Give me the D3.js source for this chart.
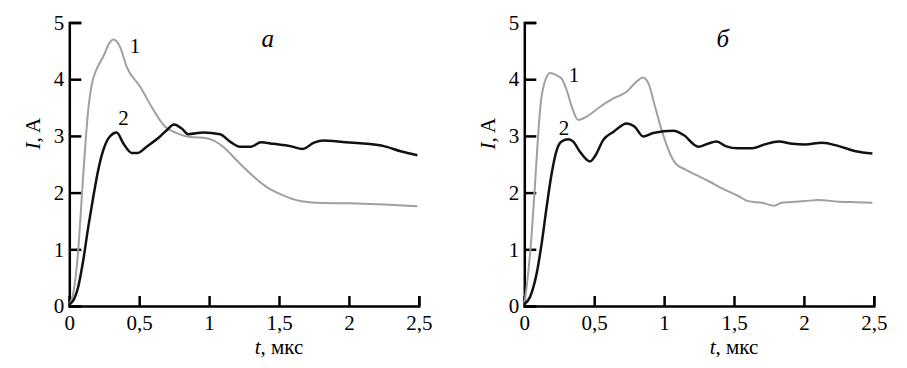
<!DOCTYPE html>
<html>
<head>
<meta charset="utf-8">
<script src="https://cdn.jsdelivr.net/npm/d3@7"></script>
<style>
  body { margin: 0; background: #fff; }
  svg text { font-family: "Liberation Serif", "Times New Roman", Tinos, "DejaVu Serif", serif !important; }
</style>
</head>
<body>
<svg id="chart" width="907" height="368"></svg>
<script>
// Tick values
const xTicks = [0, 0.5, 1, 1.5, 2, 2.5];
const yTicks = [0, 1, 2, 3, 4, 5];

// Panel "а": curve 1 (gray) and curve 2 (black), [t (мкс), I (A)]
const aCurve1 = [
  [0, 0.03], [0.029, 0.23], [0.064, 0.99], [0.088, 1.87], [0.112, 2.75], [0.135, 3.45],
  [0.16, 3.9], [0.2, 4.2], [0.243, 4.4], [0.29, 4.65], [0.315, 4.7], [0.363, 4.57],
  [0.41, 4.22], [0.506, 3.87], [0.601, 3.46], [0.685, 3.16], [0.768, 3.05], [0.863, 2.98],
  [0.983, 2.96], [1.03, 2.92], [1.1, 2.81], [1.197, 2.57], [1.293, 2.34], [1.41, 2.1],
  [1.53, 1.95], [1.65, 1.85], [1.77, 1.82], [2.01, 1.81], [2.25, 1.79], [2.49, 1.76]
];
const aCurve2 = [
  [0, 0.03], [0.029, 0.1], [0.064, 0.34], [0.1, 0.81], [0.136, 1.4], [0.172, 1.93],
  [0.207, 2.4], [0.243, 2.75], [0.29, 2.99], [0.339, 3.06], [0.386, 2.87], [0.446, 2.7],
  [0.49, 2.7], [0.553, 2.81], [0.649, 2.99], [0.697, 3.1], [0.749, 3.2], [0.804, 3.13],
  [0.851, 3.03], [0.959, 3.06], [1.078, 3.03], [1.15, 2.9], [1.22, 2.81], [1.3, 2.81],
  [1.37, 2.89], [1.46, 2.86], [1.58, 2.82], [1.67, 2.77], [1.75, 2.88], [1.82, 2.92],
  [1.92, 2.9], [2.03, 2.88], [2.13, 2.86], [2.25, 2.82], [2.37, 2.73], [2.49, 2.66]
];

// Panel "б"
const bCurve1 = [
  [0, 0.03], [0.017, 0.34], [0.053, 1.28], [0.077, 2.16], [0.1, 3.05], [0.12, 3.63],
  [0.14, 3.9], [0.16, 4.04], [0.184, 4.11], [0.23, 4.07], [0.267, 4.01], [0.303, 3.81],
  [0.339, 3.52], [0.386, 3.28], [0.446, 3.34], [0.54, 3.51], [0.637, 3.66], [0.732, 3.78],
  [0.804, 3.96], [0.847, 4.03], [0.887, 3.93], [0.935, 3.52], [0.983, 3.1], [1.042, 2.69],
  [1.08, 2.52], [1.15, 2.41], [1.22, 2.32], [1.32, 2.2], [1.41, 2.08], [1.53, 1.94],
  [1.6, 1.85], [1.7, 1.82], [1.79, 1.77], [1.84, 1.82], [2.01, 1.85], [2.1, 1.87],
  [2.25, 1.84], [2.37, 1.83], [2.49, 1.82]
];
const bCurve2 = [
  [0, 0.03], [0.041, 0.16], [0.089, 0.58], [0.124, 1.1], [0.16, 1.75], [0.196, 2.34],
  [0.232, 2.75], [0.267, 2.9], [0.315, 2.94], [0.35, 2.9], [0.398, 2.72], [0.47, 2.55],
  [0.51, 2.66], [0.565, 2.93], [0.637, 3.07], [0.732, 3.22], [0.79, 3.16], [0.851, 2.99],
  [0.923, 3.05], [1.066, 3.09], [1.137, 3.02], [1.245, 2.81], [1.31, 2.86], [1.376, 2.9],
  [1.44, 2.82], [1.53, 2.78], [1.63, 2.78], [1.72, 2.85], [1.82, 2.9], [1.92, 2.86],
  [2.01, 2.85], [2.13, 2.88], [2.25, 2.82], [2.37, 2.73], [2.49, 2.69]
];

// Annotations: [label, t, I]
const aLabels = [['1', 0.47, 4.46], ['2', 0.388, 3.19]];
const bLabels = [['1', 0.355, 3.95], ['2', 0.284, 3.02]];

const svg = d3.select('#chart');
const fmt = d => String(d).replace('.', ',');

function drawPanel(left, letter, curve1, curve2, labels) {
  const x = d3.scaleLinear().domain([0, 2.5]).range([left, left + 349.5]);
  const y = d3.scaleLinear().domain([0, 5]).range([306, 22.5]);
  const g = svg.append('g');

  // axes with ticks pointing inward
  const xAxis = g.append('g')
    .attr('transform', `translate(0,${y(0)})`)
    .call(d3.axisBottom(x).tickValues(xTicks).tickSize(-10).tickPadding(9).tickFormat(fmt));
  const yAxis = g.append('g')
    .attr('transform', `translate(${x(0)},0)`)
    .call(d3.axisLeft(y).tickValues(yTicks).tickSize(-12).tickPadding(5).tickFormat(fmt));

  [xAxis, yAxis].forEach(ax => {
    ax.attr('font-family', null);
    ax.select('.domain').attr('stroke', '#000').attr('stroke-width', 2.5);
    ax.selectAll('.tick line').attr('stroke', '#000').attr('stroke-width', 2.5);
    ax.selectAll('text').attr('fill', '#000').style('font-size', '21px');
  });

  const line = d3.line()
    .x(d => x(d[0]))
    .y(d => y(d[1]))
    .curve(d3.curveMonotoneX);

  g.append('path').datum(curve1)
    .attr('d', line).attr('fill', 'none')
    .attr('stroke', '#a0a0a0').attr('stroke-width', 2);
  g.append('path').datum(curve2)
    .attr('d', line).attr('fill', 'none')
    .attr('stroke', '#111').attr('stroke-width', 2.5);

  // curve numbers
  g.selectAll('.num').data(labels).enter().append('text')
    .attr('x', d => x(d[1])).attr('y', d => y(d[2]))
    .attr('text-anchor', 'middle').style('font-size', '21px')
    .text(d => d[0]);

  // panel letter
  g.append('text')
    .attr('x', x(1.42)).attr('y', y(4.57))
    .attr('text-anchor', 'middle')
    .style('font-size', '25px').style('font-style', 'italic')
    .text(letter);

  // x title
  const xt = g.append('text')
    .attr('x', x(1.5)).attr('y', 354)
    .attr('text-anchor', 'middle').style('font-size', '21px');
  xt.append('tspan').style('font-style', 'italic').text('t');
  xt.append('tspan').text(', мкс');

  // y title
  const yt = g.append('text')
    .attr('transform', `translate(${x(0) - 29},${y(3.04)}) rotate(-90)`)
    .attr('text-anchor', 'middle').style('font-size', '21px');
  yt.append('tspan').style('font-style', 'italic').text('I');
  yt.append('tspan').text(', A');
}

drawPanel(69.3, 'а', aCurve1, aCurve2, aLabels);
drawPanel(524.3, 'б', bCurve1, bCurve2, bLabels);
</script>
</body>
</html>
